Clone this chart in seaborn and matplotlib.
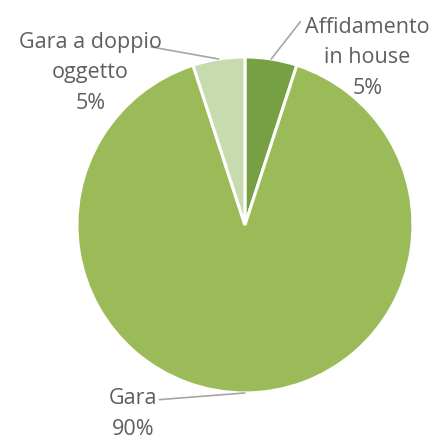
import numpy as np
import matplotlib
matplotlib.use("Agg")
import matplotlib.pyplot as plt
import seaborn as sns

# Ripartizione delle modalità di affidamento
categories = ["Affidamento\nin house", "Gara", "Gara a doppio\noggetto"]
shares = [5, 90, 5]
colors = ["#77a044", "#9bbb59", "#c8dbae"]

sns.set_theme(style="white")
plt.rcParams["font.family"] = ["Open Sans", "DejaVu Sans"]

fig = plt.figure(figsize=(4.4, 4.42), dpi=100)
ax = fig.add_axes([0, 0, 1, 1])

wedges, _ = ax.pie(
    shares,
    colors=colors,
    startangle=90,
    counterclock=False,
    radius=1.0,
    wedgeprops=dict(edgecolor="white", linewidth=2.2),
)
ax.set_xlim(-1.458, 1.161)
ax.set_ylim(-1.292, 1.339)
ax.set_aspect("equal")
ax.axis("off")

text_color = "#5f5f5f"
line_color = "#a6a6a6"

# label position (centre x, top y) and leader-line end for each slice
label_pos = [(0.73, 1.24), (-0.665, -0.97), (-0.92, 1.15)]
line_end = [(0.33, 1.21), (-0.51, -1.04), (-0.56, 1.06)]

for w, share, cat, (tx, ty), (lx, ly) in zip(wedges, shares, categories, label_pos, line_end):
    mid = np.deg2rad((w.theta1 + w.theta2) / 2)
    px, py = np.cos(mid), np.sin(mid)
    ax.plot([px, lx], [py, ly], color=line_color, lw=1.2, zorder=1)
    ax.text(tx, ty, f"{cat}\n{share}%", ha="center", va="top",
            fontsize=15.5, color=text_color, linespacing=1.6, zorder=3)

fig.savefig("out.png", dpi=100)
